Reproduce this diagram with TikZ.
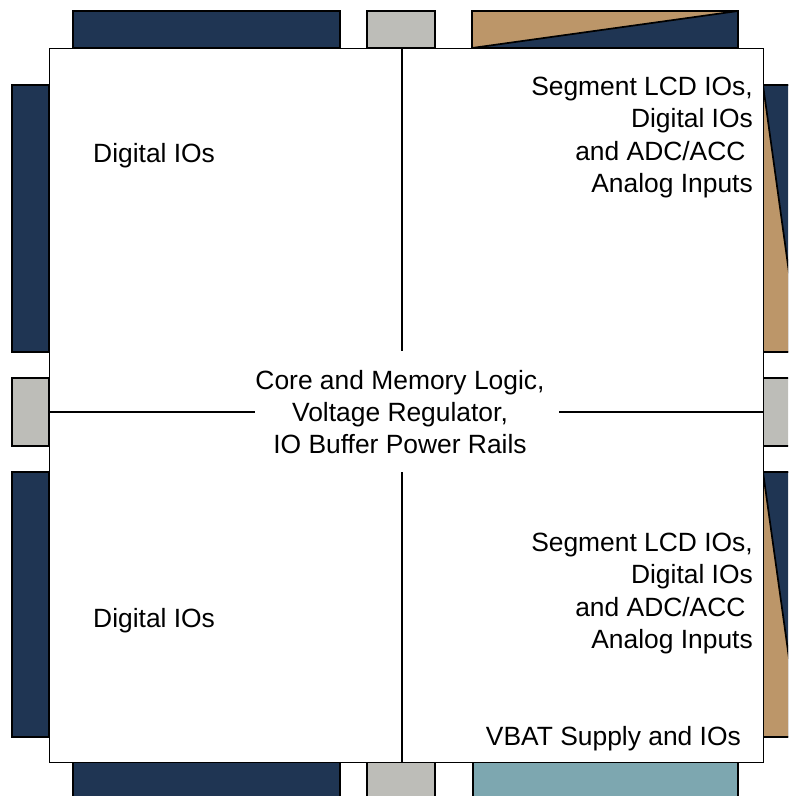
\documentclass[tikz,border=0pt]{standalone}
\usepackage{fontspec}
\setmainfont{Liberation Sans}
\definecolor{navy}{HTML}{1F3553}
\definecolor{tan}{HTML}{BC9669}
\definecolor{pgray}{HTML}{BDBDB8}
\definecolor{teal}{HTML}{7DA7B0}
\tikzset{
  blk/.style={draw=black,line width=1.7pt},
  divider/.style={draw=black,line width=1.4pt},
  lbl/.style={inner sep=0pt,font=\fontsize{26.4}{32.3}\selectfont},
}
\begin{document}
\begin{tikzpicture}[x=1pt,y=-1pt]
\useasboundingbox (0,0) rectangle (788,796);
\clip (0,0) rectangle (788,796);
% top blocks
\path[blk,fill=navy] (73,11) rectangle (340,48);
\path[blk,fill=pgray] (367,11) rectangle (435,48);
\path[blk,fill=navy] (472,11) rectangle (738,48);
\path[fill=tan] (472,11) -- (738,11) -- (472,48) -- cycle;
\draw[blk] (472,11) rectangle (738,48);
\draw[blk] (472,48) -- (738,11);
% left blocks
\path[blk,fill=navy] (12,85) rectangle (49,352);
\path[blk,fill=pgray] (12,378) rectangle (49,446);
\path[blk,fill=navy] (12,472) rectangle (49,737);
% right blocks
\path[blk,fill=navy] (763,85) rectangle (800,352);
\path[fill=tan] (763,85) -- (800,352) -- (763,352) -- cycle;
\draw[blk] (763,85) rectangle (800,352);
\draw[blk] (763,85) -- (800,352);
\path[blk,fill=pgray] (763,378) rectangle (800,446);
\path[blk,fill=navy] (763,472) rectangle (800,737);
\path[fill=tan] (763,472) -- (800,737) -- (763,737) -- cycle;
\draw[blk] (763,472) rectangle (800,737);
\draw[blk] (763,472) -- (800,737);
% bottom blocks
\path[blk,fill=navy] (73,762) rectangle (340,800);
\path[blk,fill=pgray] (367,762) rectangle (435,800);
\path[blk,fill=teal] (473,762) rectangle (738,800);
% main box
\node[draw=black,fill=white,line width=1.4pt,minimum width=714pt,minimum height=714pt,inner sep=0pt,anchor=north west] (box) at (49,48) {};
% dividers
\coordinate (vt) at (402,351);
\coordinate (vb) at (402,472);
\coordinate (hl) at (255,412);
\coordinate (hr) at (559,412);
\draw[divider] (box.north -| vt) -- (vt);
\draw[divider] (vb) -- (box.south -| vb);
\draw[divider] (box.west |- hl) -- (hl);
\draw[divider] (hr) -- (box.east |- hr);
% labels
\node[lbl,anchor=north west] (tl) at (93,143) {Digital IOs};
\node[lbl,anchor=north west] (bl) at (93,608) {Digital IOs};
\node[lbl,anchor=north east,align=right] (tr) at (753,77) {Segment LCD IOs,\\Digital IOs\\and ADC/ACC\kern7.3pt\\Analog Inputs};
\node[lbl,anchor=north east,align=right] (br) at (753,533) {Segment LCD IOs,\\Digital IOs\\and ADC/ACC\kern7.3pt\\Analog Inputs};
\node[lbl,anchor=north,align=center] (core) at (400,370) {Core and Memory Logic,\\Voltage Regulator,\\IO Buffer Power Rails};
\node[lbl,anchor=north east] (vbat) at (741,726) {VBAT Supply and IOs};
\end{tikzpicture}
\end{document}
